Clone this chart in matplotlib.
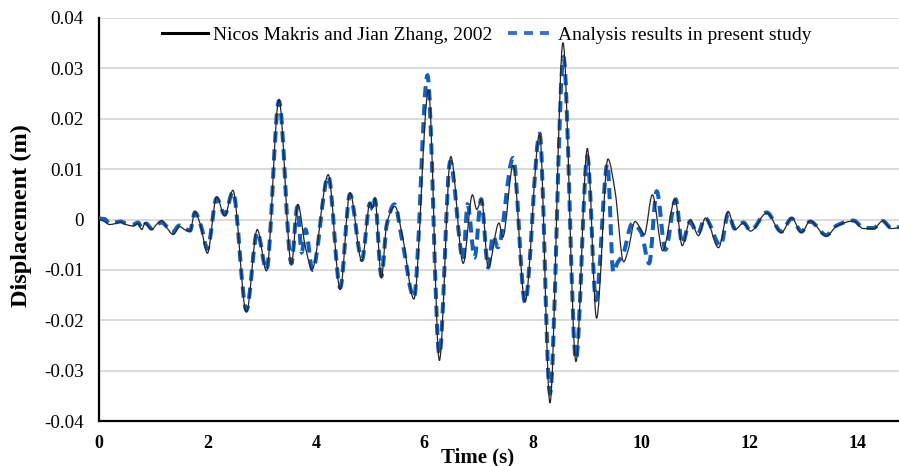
import numpy as np
import matplotlib
matplotlib.use("Agg")
import matplotlib.pyplot as plt
from matplotlib.path import Path
from matplotlib.patches import PathPatch
from matplotlib.lines import Line2D

plt.rcParams["font.family"] = ["Liberation Serif", "DejaVu Serif"]
plt.rcParams["lines.scale_dashes"] = False

# Reference displacement history (Makris & Zhang, 2002)
time_ref = [0.00, 0.08, 0.20, 0.30, 0.39, 0.50, 0.63, 0.72, 0.79, 0.85, 0.97, 1.06,
            1.16, 1.25, 1.37, 1.49, 1.58, 1.68, 1.77, 1.87, 2.00, 2.17, 2.32, 2.47,
            2.72, 2.92, 3.09, 3.32, 3.55, 3.67, 3.80, 3.93, 4.23, 4.45, 4.63, 4.85,
            5.00, 5.05, 5.09, 5.21, 5.31, 5.46, 5.61, 5.81, 6.08, 6.28, 6.49, 6.72,
            6.89, 6.97, 7.06, 7.18, 7.38, 7.45, 7.64, 7.86, 8.13, 8.32, 8.56, 8.80,
            9.01, 9.18, 9.39, 9.52, 9.68, 9.76, 9.89, 9.99, 10.06, 10.21, 10.40, 10.63,
            10.76, 10.91, 11.06, 11.19, 11.43, 11.61, 11.73, 11.89, 12.02, 12.32, 12.59,
            12.78, 12.96, 13.12, 13.42, 13.61, 13.92, 14.10, 14.29, 14.46, 14.62, 14.76]
disp_ref = [0.0000, -0.0003, -0.0010, -0.0008, -0.0005, -0.0010, -0.0013, -0.0008,
            -0.0020, -0.0007, -0.0020, -0.0010, -0.0002, -0.0016, -0.0030, -0.0014,
            -0.0020, -0.0023, 0.0015, -0.0010, -0.0067, 0.0045, 0.0007, 0.0058,
            -0.0184, -0.0020, -0.0102, 0.0238, -0.0089, 0.0030, -0.0050, -0.0099,
            0.0089, -0.0139, 0.0053, -0.0083, 0.0033, 0.0023, 0.0043, -0.0116,
            -0.0007, 0.0026, -0.0040, -0.0158, 0.0257, -0.0280, 0.0125, -0.0087,
            0.0049, 0.0020, 0.0040, -0.0095, -0.0007, -0.0035, 0.0107, -0.0164,
            0.0170, -0.0364, 0.0351, -0.0282, 0.0141, -0.0196, 0.0120, 0.0057,
            -0.0084, -0.0062, -0.0004, -0.0018, -0.0030, 0.0049, -0.0062, 0.0040,
            -0.0052, 0.0000, -0.0032, 0.0003, -0.0056, 0.0016, -0.0020, -0.0007,
            -0.0023, 0.0013, -0.0026, 0.0003, -0.0026, -0.0003, -0.0033, -0.0013,
            -0.0003, -0.0018, -0.0018, -0.0003, -0.0018, -0.0016]

# Displacement history from the present analysis
time_study = [0.00, 0.10, 0.20, 0.30, 0.40, 0.50, 0.63, 0.72, 0.80, 0.87, 0.97, 1.06,
              1.16, 1.25, 1.36, 1.48, 1.58, 1.68, 1.77, 1.88, 2.00, 2.17, 2.32, 2.47,
              2.72, 2.92, 3.09, 3.32, 3.55, 3.66, 3.74, 3.81, 3.94, 4.23, 4.45, 4.63,
              4.85, 5.00, 5.05, 5.09, 5.21, 5.31, 5.45, 5.60, 5.81, 6.06, 6.28, 6.48,
              6.72, 6.80, 6.93, 7.05, 7.18, 7.27, 7.36, 7.64, 7.86, 8.13, 8.32, 8.57,
              8.80, 9.01, 9.17, 9.38, 9.49, 9.57, 9.66, 9.84, 10.00, 10.15, 10.29, 10.45,
              10.64, 10.76, 10.90, 11.05, 11.18, 11.47, 11.61, 11.73, 11.89, 12.02, 12.32,
              12.59, 12.78, 12.96, 13.12, 13.42, 13.61, 13.92, 14.10, 14.29, 14.46, 14.62,
              14.76]
disp_study = [0.0002, 0.0001, -0.0008, -0.0006, -0.0004, -0.0008, -0.0010, -0.0006,
              -0.0018, -0.0008, -0.0018, -0.0010, -0.0006, -0.0014, -0.0025, -0.0012,
              -0.0018, -0.0022, 0.0014, -0.0012, -0.0058, 0.0042, 0.0010, 0.0055,
              -0.0180, -0.0025, -0.0100, 0.0235, -0.0087, 0.0025, -0.0065, -0.0020,
              -0.0100, 0.0086, -0.0135, 0.0050, -0.0080, 0.0032, 0.0020, 0.0040,
              -0.0112, -0.0010, 0.0030, -0.0045, -0.0155, 0.0286, -0.0268, 0.0115,
              -0.0080, 0.0030, -0.0075, 0.0040, -0.0095, -0.0032, -0.0055, 0.0122,
              -0.0164, 0.0170, -0.0345, 0.0322, -0.0278, 0.0125, -0.0160, 0.0110,
              -0.0105, -0.0085, -0.0072, -0.0008, -0.0025, -0.0087, 0.0056, -0.0060,
              0.0040, -0.0048, -0.0005, -0.0028, 0.0003, -0.0052, 0.0012, -0.0018,
              -0.0006, -0.0022, 0.0014, -0.0024, 0.0002, -0.0024, -0.0004, -0.0031,
              -0.0012, -0.0002, -0.0016, -0.0017, -0.0003, -0.0017, -0.0015]

x_ticks = [0, 2, 4, 6, 8, 10, 12, 14]
y_ticks = [-0.04, -0.03, -0.02, -0.01, 0, 0.01, 0.02, 0.03, 0.04]
y_labels = ["-0.04", "-0.03", "-0.02", "-0.01", "0", "0.01", "0.02", "0.03", "0.04"]

label_ref = "Nicos Makris and Jian Zhang, 2002"
label_study = "Analysis results in present study"


def smooth_path(x, y):
    """Smoothed line through the samples (cubic Bezier segments, monotone tangents)."""
    x = np.asarray(x, float)
    y = np.asarray(y, float)
    h = np.diff(x)
    d = np.diff(y) / h
    m = np.zeros_like(y)
    m[0], m[-1] = d[0], d[-1]
    for k in range(1, len(x) - 1):
        if d[k - 1] * d[k] <= 0:
            m[k] = 0.0
        else:
            w1 = 2 * h[k] + h[k - 1]
            w2 = h[k] + 2 * h[k - 1]
            m[k] = (w1 + w2) / (w1 / d[k - 1] + w2 / d[k])
    verts = [(x[0], y[0])]
    codes = [Path.MOVETO]
    for i in range(len(x) - 1):
        verts += [(x[i] + h[i] / 3, y[i] + m[i] * h[i] / 3),
                  (x[i + 1] - h[i] / 3, y[i + 1] - m[i + 1] * h[i] / 3),
                  (x[i + 1], y[i + 1])]
        codes += [Path.CURVE4] * 3
    return Path(verts, codes)


W, H = 899, 466
fig = plt.figure(figsize=(W / 100, H / 100), dpi=100)
ax = fig.add_axes([99 / W, 1 - 421 / H, 1 - 99 / W, (421 - 18) / H])

blue = "#1560bd"
ref_color = "#262626"
dash = (0, (8.0, 5.0))

ax.add_patch(PathPatch(smooth_path(time_study, disp_study), fill=False,
                       edgecolor=blue, linewidth=2.9, linestyle=dash,
                       capstyle="butt", zorder=3))
ax.add_patch(PathPatch(smooth_path(time_ref, disp_ref), fill=False,
                       edgecolor=ref_color, linewidth=0.9, zorder=4))

ax.set_xlim(0, 14.76)
ax.set_ylim(-0.04, 0.04)
ax.set_xticks(x_ticks)
ax.set_xticklabels([str(v) for v in x_ticks], fontweight="bold", fontsize=13)
ax.set_yticks(y_ticks)
ax.set_yticklabels(y_labels, fontsize=13.7)
ax.tick_params(axis="both", length=0)
ax.tick_params(axis="x", pad=10)
ax.tick_params(axis="y", pad=11)

ax.yaxis.grid(True, color="#d9d9d9", linewidth=1.4)
ax.set_axisbelow(True)
for side in ("top", "right"):
    ax.spines[side].set_visible(False)
for side in ("left", "bottom"):
    ax.spines[side].set_linewidth(1.6)
    ax.spines[side].set_color("black")

fig.text(478 / W, 1 - 457 / H, "Time (s)", ha="center", va="center",
         fontsize=15, fontweight="bold")
fig.text(21 / W, 1 - 216 / H, "Displacement (m)", ha="center", va="center",
         rotation=90, fontsize=17.5, fontweight="bold")

handles = [Line2D([], [], color="black", linewidth=2.2),
           Line2D([], [], color="#3c6fd0", linewidth=2.8, linestyle=(0, (6.5, 5.0)))]
ax.legend(handles, [label_ref, label_study], loc="center",
          bbox_to_anchor=((487 - 99) / 800, (421 - 35) / 403), ncol=2,
          frameon=False, fontsize=14, handlelength=2.35, handletextpad=0.25,
          columnspacing=0.8)

fig.savefig("out.png", dpi=100)
